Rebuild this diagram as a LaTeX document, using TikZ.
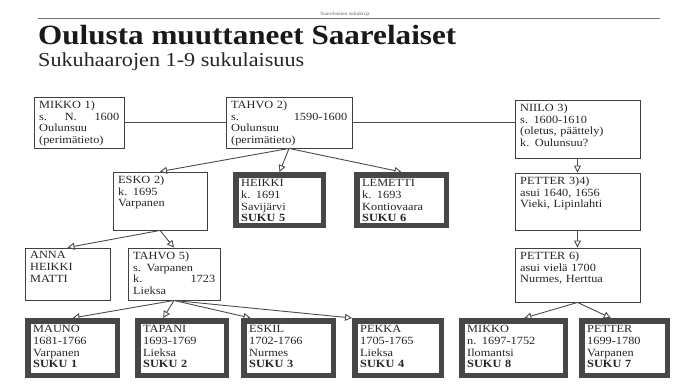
\documentclass[tikz,border=0pt]{standalone}
\usepackage{fontspec}
\setmainfont{Liberation Serif}[FakeStretch=1.12]
\usetikzlibrary{arrows.meta,calc}
\newcommand\famplain[6]{%
  \pgfmathsetmacro\fbw{#4-#2}\pgfmathsetmacro\fbh{#5-#3}\pgfmathsetmacro\ftw{#4-#2-10}%
  \node[plainbox, minimum width=\fbw pt, minimum height=\fbh pt] (#1) at ({(#2+#4)/2},{(#3+#5)/2}) {};
  \node[boxtext, text width=\ftw pt] (#1-t) at (#2+5,#3+3.5) {#6};}
\newcommand\famsuku[6]{%
  \pgfmathsetmacro\fbw{#4-#2-5.5}\pgfmathsetmacro\fbh{#5-#3-5.5}\pgfmathsetmacro\ftw{#4-#2-16}%
  \node[sukubox, minimum width=\fbw pt, minimum height=\fbh pt] (#1) at ({(#2+#4)/2},{(#3+#5)/2}) {};
  \node[boxtext, text width=\ftw pt] (#1-t) at (#2+8,#3+7) {#6};}
\begin{document}
\begin{tikzpicture}[x=1pt,y=-1pt,
  conn/.style={draw=black!70, line width=0.9pt},
  arr/.style={conn, -{Triangle[open,length=7pt,width=7pt]}},
  plainbox/.style={draw=black!75, line width=0.9pt, fill=white, inner sep=0pt},
  sukubox/.style={draw=black!72, line width=5.5pt, fill=white, inner sep=0pt},
  boxtext/.style={anchor=north west, inner sep=0pt, align=left, font=\fontsize{11}{11.8}\selectfont, text=black!85},
]
\useasboundingbox[fill=white] (0,0) rectangle (682,385);
% header
\draw[black!55, line width=1pt] (38,19) -- (660,19);
\node[font=\fontsize{5}{6}\selectfont, text=black!60, inner sep=0pt] (hdr) at (345,14) {Saarelaisten sukukirja};
\node[anchor=base west, inner sep=0pt, font=\fontsize{27.8}{28}\selectfont\bfseries, text=black!90] (title) at (38,45) {Oulusta muuttaneet Saarelaiset};
\node[anchor=base west, inner sep=0pt, font=\fontsize{19.8}{20}\selectfont, text=black!85] (subtitle) at (38,67) {Sukuhaarojen 1-9 sukulaisuus};
% boxes
\famplain{mikko1}{34}{97}{124}{148}{MIKKO 1)\\s.\hfill N.\hfill 1600\\Oulunsuu\\(perimätieto)}
\famplain{tahvo2}{226}{97}{352}{148}{TAHVO 2)\\s.\hfill 1590-1600\\Oulunsuu\\(perimätieto)}
\famplain{niilo}{515}{100}{640}{158}{NIILO 3)\\s. 1600-1610\\(oletus, päättely)\\k. Oulunsuu?}
\famplain{esko}{113}{172}{207}{230}{ESKO 2)\\k. 1695\\Varpanen}
\famsuku{heikki}{233}{172}{326}{228}{HEIKKI\\k. 1691\\Savijärvi\\\textbf{SUKU 5}}
\famsuku{lemetti}{354}{172}{449}{228}{LEMETTI\\k. 1693\\Kontiovaara\\\textbf{SUKU 6}}
\famplain{petter34}{515}{173}{640}{230}{PETTER 3)4)\\asui 1640, 1656\\Vieki, Lipinlahti}
\famplain{anna}{25}{248}{110}{300}{ANNA\\HEIKKI\\MATTI}
\famplain{tahvo5}{128}{248}{220}{300}{TAHVO 5)\\s. Varpanen\\k.\hfill 1723\\Lieksa}
\famplain{petter6}{515}{248}{640}{302}{PETTER 6)\\asui vielä 1700\\Nurmes, Herttua}
\famsuku{mauno}{25}{318}{120}{378}{MAUNO\\1681-1766\\Varpanen\\\textbf{SUKU 1}}
\famsuku{tapani}{135}{318}{229}{378}{TAPANI\\1693-1769\\Lieksa\\\textbf{SUKU 2}}
\famsuku{eskil}{241}{318}{336}{378}{ESKIL\\1702-1766\\Nurmes\\\textbf{SUKU 3}}
\famsuku{pekka}{352}{318}{444}{378}{PEKKA\\1705-1765\\Lieksa\\\textbf{SUKU 4}}
\famsuku{mikko8}{459}{318}{568}{378}{MIKKO\\n. 1697-1752\\Ilomantsi\\\textbf{SUKU 8}}
\famsuku{petter7}{579}{318}{670}{378}{PETTER\\1699-1780\\Varpanen\\\textbf{SUKU 7}}
% connectors
\draw[conn] (mikko1) -- (tahvo2);
\draw[conn] (tahvo2.east) -- (tahvo2.east -| niilo.west);
\draw[arr] (tahvo2.south) -- (esko.north);
\draw[arr] (tahvo2.south) -- (heikki.north);
\draw[arr] (tahvo2.south) -- (lemetti.north);
\draw[arr] (niilo.south) -- (petter34.north);
\draw[arr] (petter34.south) -- (petter6.north);
\draw[arr] (esko.south) -- (anna.north);
\draw[arr] (esko.south) -- (tahvo5.north);
\draw[arr] (tahvo5.south) -- (mauno.north);
\draw[arr] (tahvo5.south) -- ($(tapani.north west)!0.3!(tapani.north east)$);
\draw[arr] (tahvo5.south) -- ($(eskil.north west)!0.1!(eskil.north east)$);
\draw[arr] (tahvo5.south) -- (pekka.north west);
\draw[arr] (petter6.south) -- ($(mikko8.north west)!0.6!(mikko8.north east)$);
\draw[arr] (petter6.south) -- ($(petter7.north west)!0.35!(petter7.north east)$);
\end{tikzpicture}
\end{document}
